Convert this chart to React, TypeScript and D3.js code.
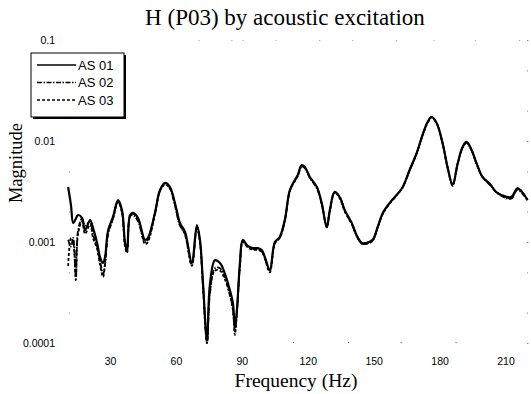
import React from "react";
import * as d3 from "d3";

const freqs = [
  10.7, 12.0, 13.0, 14.2, 15.2, 17.0, 18.4, 20.7, 22.0, 23.9,
  25.2, 26.6, 27.5, 28.9, 31.1, 33.4, 35.2, 36.6, 37.5, 38.9,
  40.2, 42.5, 45.7, 47.0, 50.2, 52.5, 54.8, 57.0, 59.3, 61.6,
  63.9, 67.0, 69.3, 70.7, 72.0, 73.9, 75.2, 77.5, 79.8, 82.0,
  84.3, 85.7, 86.6, 87.5, 88.9, 90.2, 92.5, 94.8, 97.0, 98.9,
  100.2, 102.5, 104.8, 107.0, 109.3, 111.6, 113.9, 115.2, 117.0, 118.4,
  120.7, 123.9, 126.1, 128.4, 129.8, 132.0, 134.3, 136.6, 139.8, 142.0,
  144.3, 146.6, 149.3, 151.6, 153.9, 157.0, 160.2, 163.0, 166.1, 169.3,
  172.0, 174.3, 176.1, 178.4, 181.1, 183.4, 185.7, 188.0, 190.2, 192.0,
  194.3, 196.6, 199.3, 202.5, 205.7, 210.2, 212.5, 215.2, 217.5, 219.8,
];

const as01 = [
  0.0035, 0.0023, 0.00154, 0.0017, 0.00185, 0.00173, 0.00131, 0.00165, 0.00138, 0.00098,
  0.00071, 0.00062, 0.00071, 0.00131, 0.00177, 0.0026, 0.00207, 0.00098, 0.00083, 0.00185,
  0.00194, 0.00173, 0.00105, 0.0011, 0.00194, 0.00327, 0.00384, 0.00351, 0.00243, 0.00154,
  0.00126, 0.00063, 0.00147, 0.00105, 0.00042, 0.000107, 0.000375, 0.00066, 0.00062, 0.00049,
  0.000335, 0.00025, 0.00014, 0.00021, 0.00062, 0.00105, 0.00091, 0.00087, 0.00087, 0.00083,
  0.00071, 0.00053, 0.001, 0.00112, 0.00165, 0.00327, 0.00411, 0.0046, 0.00578, 0.00553,
  0.0044, 0.00351, 0.00243, 0.00141, 0.00207, 0.00313, 0.00279, 0.00207, 0.00154, 0.00117,
  0.00098, 0.00098, 0.00105, 0.00141, 0.00194, 0.00243, 0.00292, 0.00351, 0.00516, 0.0076,
  0.0115, 0.0154, 0.0173, 0.0151, 0.0096, 0.0055, 0.0037, 0.006, 0.0087, 0.0098,
  0.0082, 0.006, 0.0044, 0.0038, 0.0031, 0.0028, 0.0028, 0.0034, 0.0031, 0.0026,
];

const as02 = [
  0.00105, 0.0009, 0.0011, 0.00046, 0.0013, 0.0017, 0.00145, 0.0016, 0.00118, 0.0009,
  0.00065, 0.00048, 0.0006, 0.0012, 0.0017, 0.0025, 0.002, 0.00095, 0.0008, 0.0018,
  0.00185, 0.0016, 0.001, 0.00105, 0.0019, 0.0032, 0.0038, 0.0034, 0.0023, 0.00145,
  0.0012, 0.0006, 0.0014, 0.001, 0.0004, 0.0001, 0.0003, 0.00055, 0.00055, 0.00045,
  0.0003, 0.00022, 0.00013, 0.0002, 0.0006, 0.001, 0.0009, 0.00085, 0.00085, 0.0008,
  0.0007, 0.00052, 0.00098, 0.0011, 0.0016, 0.0032, 0.0041, 0.0045, 0.0056, 0.0054,
  0.0043, 0.0034, 0.0024, 0.0014, 0.002, 0.0031, 0.0028, 0.00205, 0.0015, 0.00115,
  0.00096, 0.00097, 0.00104, 0.0014, 0.0019, 0.0024, 0.0029, 0.0035, 0.0051, 0.0075,
  0.0113, 0.0152, 0.0171, 0.015, 0.0095, 0.0055, 0.0036, 0.0059, 0.0085, 0.0096,
  0.0081, 0.006, 0.0044, 0.0037, 0.0031, 0.0027, 0.0027, 0.0033, 0.003, 0.0026,
];

const as03 = [
  0.00058, 0.0011, 0.001, 0.00042, 0.0012, 0.0016, 0.0012, 0.0015, 0.0011, 0.00085,
  0.0006, 0.00045, 0.00062, 0.00125, 0.0017, 0.0025, 0.00195, 0.0009, 0.00078, 0.0018,
  0.0019, 0.0017, 0.00095, 0.001, 0.0019, 0.0032, 0.0037, 0.0034, 0.0024, 0.0015,
  0.00118, 0.00058, 0.0014, 0.001, 0.00038, 0.0001, 0.00032, 0.00052, 0.00052, 0.00043,
  0.0003, 0.00021, 0.00012, 0.0002, 0.00058, 0.001, 0.00088, 0.00084, 0.00083, 0.0008,
  0.00069, 0.0005, 0.00097, 0.0011, 0.0016, 0.0032, 0.004, 0.0045, 0.0057, 0.0055,
  0.0044, 0.0035, 0.0024, 0.0014, 0.00205, 0.0031, 0.0027, 0.002, 0.0015, 0.00115,
  0.00097, 0.00096, 0.00103, 0.0014, 0.0019, 0.0024, 0.0029, 0.0035, 0.0051, 0.0075,
  0.0114, 0.0152, 0.0172, 0.0151, 0.0095, 0.0054, 0.0037, 0.006, 0.0086, 0.0097,
  0.0081, 0.0059, 0.0044, 0.0038, 0.0031, 0.0028, 0.0027, 0.0034, 0.0031, 0.0026,
];

const seriesNames = ["AS 01", "AS 02", "AS 03"];
const xTicks = [30, 60, 90, 120, 150, 180, 210];
const yTicks = [0.1, 0.01, 0.001, 0.0001];
const yTickLabels = ["0.1", "0.01", "0.001", "0.0001"];
const minorY = [0.05, 0.02, 0.005, 0.002, 0.0005, 0.0002];
const topDots = [70, 85, 90, 105, 125, 140, 160, 177, 196, 216];
const bottomDots = [113, 138, 162, 187];

const W = 531;
const H = 394;
const left = 66.6;
const right = 528;
const top = 40;
const bottom = 343;

export default function App() {
  const x = d3.scaleLinear().domain([10, 220]).range([left, right]);
  const y = d3.scaleLog().domain([0.0001, 0.1]).range([bottom, top]);
  const line = d3
    .line<number>()
    .x((_, i) => x(freqs[i]))
    .y((d) => y(d))
    .curve(d3.curveCatmullRom.alpha(0.5));

  const series = [
    { name: seriesNames[0], data: as01, dash: "none", w: 2.2 },
    { name: seriesNames[1], data: as02, dash: "5,1.5,1.5,1.5", w: 1.8 },
    { name: seriesNames[2], data: as03, dash: "3,2", w: 1.8 },
  ];

  const sans = "Liberation Sans, Arial, sans-serif";
  const serif = "Liberation Serif, Times New Roman, serif";

  return (
    <svg
      width={W}
      height={H}
      style={{ position: "absolute", left: 0, top: 0, background: "#fff" }}
    >
      <rect width={W} height={H} fill="#fff" />
      <defs>
        <clipPath id="plot">
          <rect x={left} y={top - 2} width={right - left + 2} height={bottom - top + 4} />
        </clipPath>
      </defs>
      <text x={285} y={25} textAnchor="middle" fontFamily={serif} fontSize={23} fill="#000">
        H (P03) by acoustic excitation
      </text>
      {minorY.map((v, i) => (
        <g key={"my" + i}>
          <rect x={69} y={y(v)} width={1} height={1} fill="#888" />
          <rect x={527} y={y(v)} width={1} height={1} fill="#888" />
        </g>
      ))}
      {yTicks.map((v, i) => (
        <rect key={"ry" + i} x={527} y={y(v)} width={1.5} height={1} fill="#888" />
      ))}
      {topDots.map((f, i) => (
        <rect key={"td" + i} x={x(f)} y={top} width={1} height={1} fill="#999" />
      ))}
      {bottomDots.map((f, i) => (
        <rect key={"bd" + i} x={x(f)} y={bottom - 1} width={1.2} height={1.2} fill="#777" />
      ))}
      {yTicks.map((v, i) => (
        <text
          key={"yt" + i}
          x={55}
          y={y(v) + 3.5}
          textAnchor="end"
          fontFamily={sans}
          fontSize={10.5}
          fill="#000"
        >
          {yTickLabels[i]}
        </text>
      ))}
      {xTicks.map((f) => (
        <text
          key={"xt" + f}
          x={x(f)}
          y={365}
          textAnchor="middle"
          fontFamily={sans}
          fontSize={10.5}
          fill="#000"
        >
          {f}
        </text>
      ))}
      <text x={296} y={387} textAnchor="middle" fontFamily={serif} fontSize={19.5} fill="#000">
        Frequency (Hz)
      </text>
      <text
        transform={`translate(22,163) rotate(-90)`}
        textAnchor="middle"
        fontFamily={serif}
        fontSize={18.5}
        fill="#000"
      >
        Magnitude
      </text>
      <g clipPath="url(#plot)">
        {series.map((s) => (
          <path
            key={s.name}
            d={line(s.data) || ""}
            fill="none"
            stroke="#000"
            strokeWidth={s.w}
            strokeDasharray={s.dash}
            strokeLinejoin="round"
          />
        ))}
      </g>
      <g>
        <rect x={33} y={55} width={93} height={64} fill="#000" />
        <rect x={31} y={53} width={93} height={64} fill="#fff" stroke="#000" strokeWidth={1} />
        {series.map((s, i) => (
          <g key={"lg" + i}>
            <line
              x1={37}
              x2={76}
              y1={65 + i * 17.5}
              y2={65 + i * 17.5}
              stroke="#000"
              strokeWidth={1.3}
              strokeDasharray={s.dash}
            />
            <text x={78} y={65 + i * 17.5 + 4.5} fontFamily={sans} fontSize={13} fill="#000">
              {s.name}
            </text>
          </g>
        ))}
      </g>
    </svg>
  );
}
